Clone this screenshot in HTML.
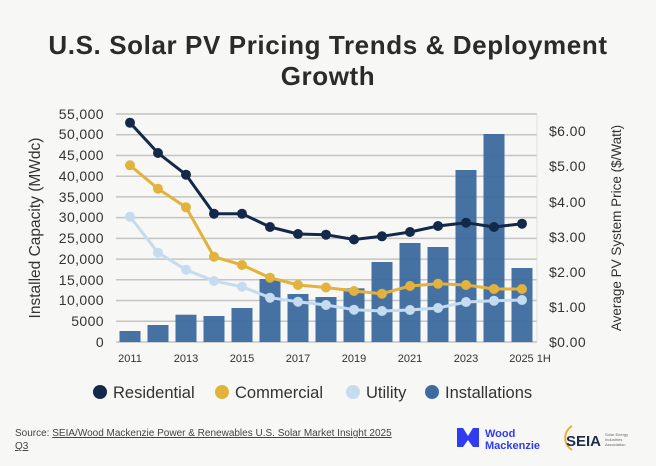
<!DOCTYPE html>
<html><head><meta charset="utf-8"><style>
body{margin:0;width:656px;height:466px;background:#f7f7f5;font-family:"Liberation Sans",sans-serif;overflow:hidden;position:relative}
.t{position:absolute;left:0;width:656px;text-align:center;font-weight:bold;font-size:26px;letter-spacing:0.6px;color:#2b2b2b;line-height:31px;top:30px}
</style></head><body>
<div class="t">U.S. Solar PV Pricing Trends &amp; Deployment<br>Growth</div>
<svg width="656" height="466" style="position:absolute;left:0;top:0" font-family="Liberation Sans, sans-serif">
<g stroke="#c4c4c4" stroke-width="1.5">
<line x1="116" x2="537" y1="342" y2="342"/><line x1="116" x2="537" y1="321.3" y2="321.3"/><line x1="116" x2="537" y1="300.5" y2="300.5"/><line x1="116" x2="537" y1="279.8" y2="279.8"/><line x1="116" x2="537" y1="259.1" y2="259.1"/><line x1="116" x2="537" y1="238.4" y2="238.4"/><line x1="116" x2="537" y1="217.6" y2="217.6"/><line x1="116" x2="537" y1="196.9" y2="196.9"/><line x1="116" x2="537" y1="176.2" y2="176.2"/><line x1="116" x2="537" y1="155.5" y2="155.5"/><line x1="116" x2="537" y1="134.7" y2="134.7"/><line x1="116" x2="537" y1="114" y2="114"/>
</g>
<line x1="537" x2="537" y1="114" y2="342" stroke="#e2e2e2"/>
<g font-size="14" fill="#333" text-anchor="end" letter-spacing="0.4">
<text x="104" y="347">0</text><text x="104" y="326">5000</text><text x="104" y="305">10,000</text><text x="104" y="285">15,000</text><text x="104" y="264">20,000</text><text x="104" y="243">25,000</text><text x="104" y="222">30,000</text><text x="104" y="202">35,000</text><text x="104" y="181">40,000</text><text x="104" y="160">45,000</text><text x="104" y="139">50,000</text><text x="104" y="119">55,000</text>
</g>
<g font-size="14" fill="#333" letter-spacing="0.4">
<text x="549" y="347">$0.00</text><text x="549" y="312">$1.00</text><text x="549" y="277">$2.00</text><text x="549" y="242">$3.00</text><text x="549" y="207">$4.00</text><text x="549" y="171">$5.00</text><text x="549" y="136">$6.00</text>
</g>
<text transform="translate(40,228) rotate(-90)" text-anchor="middle" font-size="15.5" fill="#333">Installed Capacity (MWdc)</text>
<text transform="translate(621,228) rotate(-90)" text-anchor="middle" font-size="13.5" fill="#333">Average PV System Price ($/Watt)</text>
<g fill="#3d6b9f" opacity="0.95">
<rect x="119.5" y="331" width="21" height="11"/><rect x="147.5" y="325" width="21" height="17"/><rect x="175.5" y="314.7" width="21" height="27.3"/><rect x="203.5" y="316" width="21" height="26"/><rect x="231.5" y="308" width="21" height="34"/><rect x="259.5" y="279" width="21" height="63"/><rect x="287.5" y="294" width="21" height="48"/><rect x="315.5" y="297" width="21" height="45"/><rect x="343.5" y="288.3" width="21" height="53.7"/><rect x="371.5" y="262" width="21" height="80"/><rect x="399.5" y="243" width="21" height="99"/><rect x="427.5" y="247" width="21" height="95"/><rect x="455.5" y="170" width="21" height="172"/><rect x="483.5" y="134" width="21" height="208"/><rect x="511.5" y="268" width="21" height="74"/>
</g>
<g fill="none" stroke-width="3" stroke-linejoin="round">
<polyline stroke="#c5dcf0" points="130,216.7 158,252.7 186,269.7 214,281 242,286.7 270,297.7 298,301.7 326,305 354,309.7 382,311 410,310 438,308 466,302 494,300.7 522,300"/>
<polyline stroke="#e3b23c" points="130,165.3 158,188.7 186,207.3 214,256.7 242,265 270,277.7 298,285 326,287.5 354,291 382,293.7 410,286 438,283.7 466,285 494,289 522,289"/>
<polyline stroke="#14284a" points="130,122.7 158,153 186,174.7 214,213.7 242,213.7 270,227 298,234 326,234.7 354,239.5 382,236.3 410,232 438,226 466,222.7 494,227 522,223.7"/>
</g>
<g fill="#c5dcf0"><circle cx="130" cy="216.7" r="5"/><circle cx="158" cy="252.7" r="5"/><circle cx="186" cy="269.7" r="5"/><circle cx="214" cy="281" r="5"/><circle cx="242" cy="286.7" r="5"/><circle cx="270" cy="297.7" r="5"/><circle cx="298" cy="301.7" r="5"/><circle cx="326" cy="305" r="5"/><circle cx="354" cy="309.7" r="5"/><circle cx="382" cy="311" r="5"/><circle cx="410" cy="310" r="5"/><circle cx="438" cy="308" r="5"/><circle cx="466" cy="302" r="5"/><circle cx="494" cy="300.7" r="5"/><circle cx="522" cy="300" r="5"/></g>
<g fill="#e3b23c"><circle cx="130" cy="165.3" r="5"/><circle cx="158" cy="188.7" r="5"/><circle cx="186" cy="207.3" r="5"/><circle cx="214" cy="256.7" r="5"/><circle cx="242" cy="265" r="5"/><circle cx="270" cy="277.7" r="5"/><circle cx="298" cy="285" r="5"/><circle cx="326" cy="287.5" r="5"/><circle cx="354" cy="291" r="5"/><circle cx="382" cy="293.7" r="5"/><circle cx="410" cy="286" r="5"/><circle cx="438" cy="283.7" r="5"/><circle cx="466" cy="285" r="5"/><circle cx="494" cy="289" r="5"/><circle cx="522" cy="289" r="5"/></g>
<g fill="#14284a"><circle cx="130" cy="122.7" r="5"/><circle cx="158" cy="153" r="5"/><circle cx="186" cy="174.7" r="5"/><circle cx="214" cy="213.7" r="5"/><circle cx="242" cy="213.7" r="5"/><circle cx="270" cy="227" r="5"/><circle cx="298" cy="234" r="5"/><circle cx="326" cy="234.7" r="5"/><circle cx="354" cy="239.5" r="5"/><circle cx="382" cy="236.3" r="5"/><circle cx="410" cy="232" r="5"/><circle cx="438" cy="226" r="5"/><circle cx="466" cy="222.7" r="5"/><circle cx="494" cy="227" r="5"/><circle cx="522" cy="223.7" r="5"/></g>
<g font-size="11" fill="#333" text-anchor="middle">
<text x="130" y="362">2011</text><text x="186" y="362">2013</text><text x="242" y="362">2015</text><text x="298" y="362">2017</text><text x="354" y="362">2019</text><text x="410" y="362">2021</text><text x="466" y="362">2023</text><text x="530" y="362">2025 1H</text>
</g>
<g font-size="16.5" fill="#333">
<circle cx="100" cy="392" r="7" fill="#14284a"/><text x="113" y="398">Residential</text>
<circle cx="222" cy="392" r="7" fill="#e3b23c"/><text x="235" y="398">Commercial</text>
<circle cx="353" cy="392" r="7" fill="#c5dcf0"/><text x="366" y="398">Utility</text>
<circle cx="432" cy="392" r="7" fill="#3d6b9f"/><text x="445" y="398">Installations</text>
</g>
<g font-size="10" fill="#444">
<text x="15" y="436">Source: <tspan text-decoration="underline">SEIA/Wood Mackenzie Power &amp; Renewables U.S. Solar Market Insight 2025</tspan></text>
<text x="15" y="449" text-decoration="underline">Q3</text>
</g>
<polygon points="457,428 463,428 468,436 473,428 479,428 479,447 473,447 468,440 463,447 457,447" fill="#2f3cf0"/>
<text x="485" y="437" font-size="11" font-weight="bold" fill="#2f3cf0">Wood</text>
<text x="485" y="449" font-size="11" font-weight="bold" fill="#2f3cf0">Mackenzie</text>
<path d="M572,426 A14,14 0 0 0 572,450" fill="none" stroke="#e3b23c" stroke-width="2"/>
<text x="566" y="446" font-size="15" font-weight="bold" fill="#1e2d4a">SEIA</text>
<text x="605" y="436" font-size="4" fill="#666">Solar Energy</text>
<text x="605" y="441" font-size="4" fill="#666">Industries</text>
<text x="605" y="446" font-size="4" fill="#666">Association</text>
</svg>
</body></html>
